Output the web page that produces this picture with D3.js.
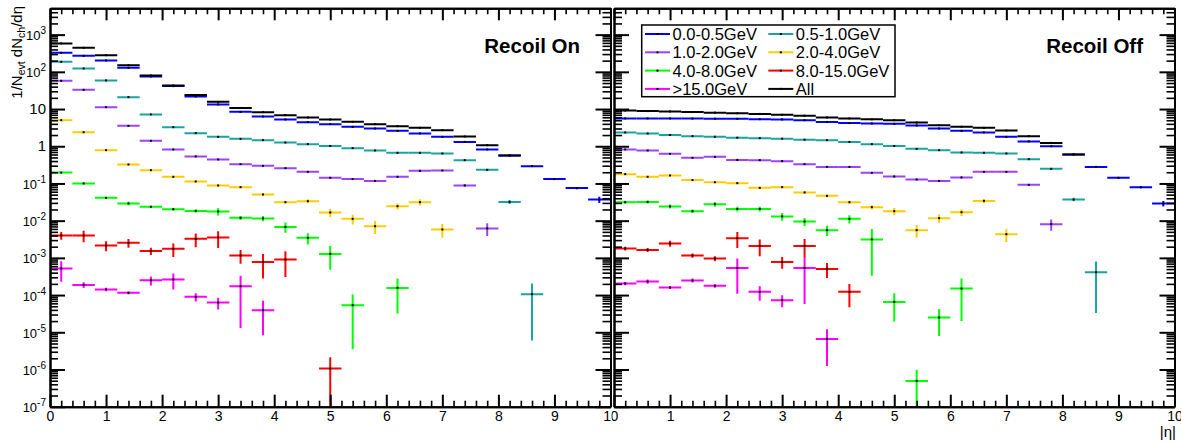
<!DOCTYPE html>
<html>
<head>
<meta charset="utf-8">
<script src="https://cdn.jsdelivr.net/npm/d3@7"></script>
<style>
  html, body { margin: 0; padding: 0; background: #fff; }
  svg { display: block; font-family: "Liberation Sans", Arial, Helvetica, sans-serif; }
</style>
</head>
<body>
<svg id="chart" width="1181" height="442"></svg>
<script>
// |eta| bin centres (bin width 0.4)
const etaBins = [0.2, 0.6, 1.0, 1.4, 1.8, 2.2, 2.6, 3.0, 3.4, 3.8, 4.2, 4.6, 5.0,
                 5.4, 5.8, 6.2, 6.6, 7.0, 7.4, 7.8, 8.2, 8.6, 9.0, 9.4, 9.8];
const binHalfWidth = 0.2;

const seriesLabels = ["0.0-0.5GeV", "0.5-1.0GeV", "1.0-2.0GeV", "2.0-4.0GeV",
                      "4.0-8.0GeV", "8.0-15.0GeV", ">15.0GeV", "All"];
const seriesColors = ["#0000ff", "#1ba2a2", "#9d42ff", "#ffcc00",
                      "#00ff00", "#ff0000", "#ff00ff", "#000000"];

// ---- Recoil On : 1/N_evt dN_ch/d|eta| ----
const onPt0 = [324, 269, 202, 128, 75, 41.3, 21.8, 13.3, 8.4, 6.3, 5.25, 4.45, 3.93,
               3.33, 3.0, 2.59, 2.21, 1.79, 1.31, 0.82, 0.566, 0.292, 0.131, 0.075, 0.037];
const onPt0Err = [3, 3, 2, 2, 1, 0.6, 0.4, 0.3, 0.2, 0.15, 0.12, 0.1, 0.1,
                  0.08, 0.08, 0.07, 0.06, 0.05, 0.04, 0.03, 0.02, 0.012, 0.007, 0.005, 0.007];
const onPt1 = [186, 123, 58.7, 20.9, 7.16, 3.26, 2.25, 1.79, 1.58, 1.46, 1.26, 1.14, 1.02,
               0.89, 0.77, 0.666, 0.666, 0.64, 0.423, 0.232, 0.0319, 1.06e-4, null, null, null];
const onPt1Err = [2, 2, 1, 0.4, 0.12, 0.06, 0.04, 0.03, 0.03, 0.03, 0.03, 0.03, 0.03,
                  0.02, 0.02, 0.02, 0.02, 0.02, 0.015, 0.01, 0.004, 1.0e-4, null, null, null];
const onPt2 = [57.3, 32.8, 11.2, 3.53, 1.40, 0.82, 0.532, 0.442, 0.33, 0.297, 0.258, 0.205, 0.142,
               0.131, 0.117, 0.151, 0.219, 0.223, 0.0883, 6.2e-3, null, null, null, null, null];
const onPt2Err = [1, 0.6, 0.2, 0.06, 0.03, 0.02, 0.012, 0.01, 0.008, 0.008, 0.007, 0.006, 0.005,
                  0.005, 0.005, 0.006, 0.008, 0.008, 0.005, 2.3e-3, null, null, null, null, null];
const onPt3 = [5.03, 2.39, 0.786, 0.324, 0.228, 0.151, 0.113, 0.0883, 0.0796, 0.0506, 0.0314, 0.0334, 0.0166,
               0.0112, 7.1e-3, 0.0245, 0.0314, 5.8e-3, null, null, null, null, null, null, null];
const onPt3Err = [0.05, 0.03, 0.012, 0.007, 0.006, 0.005, 0.004, 0.004, 0.004, 0.004, 0.002, 0.004, 0.004,
                  0.0033, 0.0027, 0.0045, 0.006, 0.0023, null, null, null, null, null, null, null];
const onPt4 = [0.196, 0.1, 0.041, 0.029, 0.0235, 0.0204, 0.0183, 0.0177, 0.0119, 0.0115, 6.8e-3, 3.45e-3, 1.28e-3,
               5.35e-5, null, 1.56e-4, null, null, null, null, null, null, null, null, null];
const onPt4Err = [0.006, 0.004, 0.002, 0.003, 0.002, 0.002, 0.002, 0.004, 0.0015, 0.0018, 2.1e-3, 1.15e-3, 0.8e-3,
                  5.0e-5, null, 1.24e-4, null, null, null, null, null, null, null, null, null];
const onPt5 = [4.0e-3, 4.0e-3, 2.15e-3, 2.53e-3, 1.54e-3, 1.75e-3, 3.24e-3, 3.53e-3, 1.16e-3, 7.8e-4, 9.06e-4, null, 1.06e-6,
               null, null, null, null, null, null, null, null, null, null, null, null];
const onPt5Err = [0.93e-3, 1.37e-3, 0.65e-3, 0.67e-3, 0.34e-3, 0.7e-3, 1.3e-3, 1.7e-3, 0.47e-3, 0.5e-3, 0.6e-3, null, 1.06e-6,
                  null, null, null, null, null, null, null, null, null, null, null, null];
const onPt6 = [5.19e-4, 1.88e-4, 1.42e-4, 1.15e-4, 2.5e-4, 2.62e-4, 8.95e-5, 6.3e-5, 1.73e-4, 3.93e-5, null, null, null,
               null, null, null, null, null, null, null, null, null, null, null, null];
const onPt6Err = [2.9e-4, 0.33e-4, 0.15e-4, 0.1e-4, 0.68e-4, 1.2e-4, 2.2e-5, 2.2e-5, 1.6e-4, 3.1e-5, null, null, null,
                  null, null, null, null, null, null, null, null, null, null, null, null];
const onAll = [580, 442, 281, 151, 80, 43, 23.7, 15.6, 10.7, 8.26, 6.86, 5.94, 5.25,
               4.53, 3.93, 3.47, 3.12, 2.71, 1.83, 1.07, 0.566, null, null, null, null];
const onAllErr = [4, 3, 2, 2, 1, 0.6, 0.4, 0.3, 0.2, 0.15, 0.12, 0.1, 0.1,
                  0.08, 0.08, 0.07, 0.06, 0.05, 0.04, 0.03, 0.02, null, null, null, null];

// ---- Recoil Off ----
const offPt0 = [5.6, 5.6, 5.6, 5.55, 5.5, 5.45, 5.35, 5.25, 5.0, 4.5, 4.2, 4.1, 4.0,
                3.62, 3.0, 2.59, 2.35, 1.79, 1.35, 1.0, 0.603, 0.279, 0.142, 0.0796, 0.029];
const offPt0Err = [0.08, 0.08, 0.08, 0.08, 0.08, 0.08, 0.08, 0.08, 0.07, 0.07, 0.07, 0.07, 0.07,
                   0.06, 0.06, 0.05, 0.05, 0.04, 0.04, 0.03, 0.02, 0.012, 0.007, 0.005, 0.005];
const offPt1 = [2.35, 2.2, 2.0, 1.87, 1.8, 1.7, 1.65, 1.6, 1.5, 1.46, 1.31, 1.14, 1.02,
                0.85, 0.786, 0.68, 0.666, 0.64, 0.45, 0.247, 0.037, 4.13e-4, null, null, null];
const offPt1Err = [0.04, 0.04, 0.04, 0.04, 0.04, 0.04, 0.04, 0.04, 0.03, 0.03, 0.03, 0.03, 0.03,
                   0.02, 0.02, 0.02, 0.02, 0.02, 0.015, 0.01, 0.004, 3.8e-4, null, null, null];
const offPt2 = [0.82, 0.77, 0.625, 0.488, 0.519, 0.43, 0.423, 0.398, 0.33, 0.279, 0.279, 0.193, 0.154,
                0.128, 0.117, 0.145, 0.205, 0.205, 0.0916, 8.06e-3, null, null, null, null, null];
const offPt2Err = [0.02, 0.02, 0.015, 0.012, 0.012, 0.01, 0.01, 0.01, 0.01, 0.008, 0.008, 0.007, 0.006,
                   0.006, 0.006, 0.007, 0.008, 0.008, 0.005, 2.7e-3, null, null, null, null, null];
const offPt3 = [0.178, 0.151, 0.164, 0.123, 0.108, 0.102, 0.0762, 0.0796, 0.0573, 0.0464, 0.0314, 0.0231, 0.018,
                5.56e-3, 0.0117, 0.0169, 0.034, 4.34e-3, null, null, null, null, null, null, null];
const offPt3Err = [0.005, 0.005, 0.005, 0.004, 0.004, 0.004, 0.003, 0.003, 0.004, 0.004, 0.003, 0.003, 0.004,
                   2.1e-3, 0.003, 0.0035, 0.0045, 1.65e-3, null, null, null, null, null, null, null];
const offPt4 = [0.0314, 0.0319, 0.0241, 0.018, 0.0278, 0.0207, 0.0207, 0.013, 9.5e-3, 5.56e-3, 0.0112, 3.13e-3, 6.56e-5,
                4.94e-7, 2.5e-5, 1.5e-4, null, null, null, null, null, null, null, null, null];
const offPt4Err = [0.003, 0.003, 0.003, 0.002, 0.004, 0.003, 0.003, 0.003, 0.0023, 1.7e-3, 0.0028, 2.8e-3, 4.6e-5,
                   4.9e-7, 1.7e-5, 1.3e-4, null, null, null, null, null, null, null, null, null];
const offPt5 = [1.79e-3, 1.64e-3, 2.44e-3, 1.16e-3, 9.6e-4, 3.39e-3, 2.1e-3, 7.8e-4, 2.1e-3, 5.06e-4, 1.22e-4, null, null,
                null, null, null, null, null, null, null, null, null, null, null, null];
const offPt5Err = [0.2e-3, 0.2e-3, 0.45e-3, 0.15e-3, 0.15e-3, 1.55e-3, 1.0e-3, 0.27e-3, 1.1e-3, 2.2e-4, 7.5e-5, null, null,
                   null, null, null, null, null, null, null, null, null, null, null, null];
const offPt6 = [2.05e-4, 2.32e-4, 1.6e-4, 2.47e-4, 1.77e-4, 5.38e-4, 1.22e-4, 7.3e-5, 5.38e-4, 6.65e-6, null, null, null,
                null, null, null, null, null, null, null, null, null, null, null, null];
const offPt6Err = [0.2e-4, 0.3e-4, 0.15e-4, 0.3e-4, 0.2e-4, 4.3e-4, 5.2e-5, 2.6e-5, 4.8e-4, 5.4e-6, null, null, null,
                   null, null, null, null, null, null, null, null, null, null, null, null];
const offAll = [9.1, 8.8, 8.6, 8.3, 8.0, 7.7, 7.4, 7.0, 6.6, 5.94, 5.6, 5.3, 5.03,
                4.36, 3.69, 3.33, 3.12, 2.66, 1.87, 1.23, 0.603, null, null, null, null];
const offAllErr = [0.1, 0.1, 0.1, 0.1, 0.1, 0.1, 0.1, 0.1, 0.08, 0.08, 0.08, 0.08, 0.07,
                   0.06, 0.06, 0.05, 0.05, 0.04, 0.04, 0.03, 0.02, null, null, null, null];

const xTickValues = [0, 1, 2, 3, 4, 5, 6, 7, 8, 9, 10];
const yDecades = [-7, -6, -5, -4, -3, -2, -1, 0, 1, 2, 3];

// ---------------- layout ----------------
const svg = d3.select("#chart");
const W = 1181, H = 442;
const plotTop = 8.3, plotBottom = 406.7;
const yDomain = [1e-7, 5.1e3];

const panels = [
  { id: "on",  left: 50,  right: 610.5, padLeft: 0,
    title: "Recoil On", titleX: 580,
    values: [onPt0, onPt1, onPt2, onPt3, onPt4, onPt5, onPt6, onAll],
    errors: [onPt0Err, onPt1Err, onPt2Err, onPt3Err, onPt4Err, onPt5Err, onPt6Err, onAllErr],
    yLabels: true, legend: false },
  { id: "off", left: 614, right: 1174.5, padLeft: 612,
    title: "Recoil Off", titleX: 1143,
    values: [offPt0, offPt1, offPt2, offPt3, offPt4, offPt5, offPt6, offAll],
    errors: [offPt0Err, offPt1Err, offPt2Err, offPt3Err, offPt4Err, offPt5Err, offPt6Err, offAllErr],
    yLabels: false, legend: true }
];

const y = d3.scaleLog().domain(yDomain).range([plotBottom, plotTop]);

const yMajor = yDecades.map(k => Math.pow(10, k));
const yMinor = [];
yDecades.forEach(k => {
  for (let m = 2; m <= 9; m++) {
    const v = m * Math.pow(10, k);
    if (v <= yDomain[1]) yMinor.push(v);
  }
});
const xMinor = d3.range(0, 10.001, 0.2).filter(v => Math.abs(v - Math.round(v)) > 1e-6);

const defs = svg.append("defs");

function styleAxis(g, width) {
  g.select(".domain").attr("stroke", "#000").attr("stroke-width", 2);
  g.selectAll(".tick line").attr("stroke", "#000").attr("stroke-width", width);
}

function drawPanel(p) {
  const root = svg.append("g");
  if (p.padLeft > 0) {
    // the second pad hides whatever of the first pad reaches past its left edge
    defs.append("clipPath").attr("id", "pad-" + p.id)
      .append("rect").attr("x", p.padLeft).attr("y", 0).attr("width", W - p.padLeft).attr("height", H);
    root.attr("clip-path", "url(#pad-" + p.id + ")");
    root.append("rect").attr("x", p.padLeft).attr("y", 0)
      .attr("width", W - p.padLeft).attr("height", H).attr("fill", "#fff");
  }

  const x = d3.scaleLinear().domain([0, 10]).range([p.left, p.right]);

  defs.append("clipPath").attr("id", "frame-" + p.id)
    .append("rect").attr("x", p.left).attr("y", plotTop)
    .attr("width", p.right - p.left).attr("height", plotBottom - plotTop);

  const data = root.append("g").attr("clip-path", "url(#frame-" + p.id + ")");
  p.values.forEach((vals, si) => {
    const errs = p.errors[si];
    const color = seriesColors[si];
    const pts = etaBins.map((eta, i) => ({ eta, v: vals[i], e: errs[i] || 0 }))
      .filter(d => d.v !== null && d.v !== undefined);
    const g = data.append("g");
    // bin-width bars
    g.selectAll("line.h").data(pts).join("line")
      .attr("x1", d => x(d.eta - binHalfWidth)).attr("x2", d => x(d.eta + binHalfWidth))
      .attr("y1", d => y(d.v)).attr("y2", d => y(d.v))
      .attr("stroke", color).attr("stroke-width", 2);
    // statistical error bars (lower end runs off the frame when it reaches zero)
    g.selectAll("line.v").data(pts.filter(d => d.e > 0)).join("line")
      .attr("x1", d => x(d.eta)).attr("x2", d => x(d.eta))
      .attr("y1", d => y(d.v + d.e))
      .attr("y2", d => (d.v - d.e) > yDomain[0] * 0.5 ? y(d.v - d.e) : plotBottom + 5)
      .attr("stroke", color).attr("stroke-width", 2);
    // point markers
    g.selectAll("rect").data(pts).join("rect")
      .attr("x", d => x(d.eta) - 1).attr("y", d => y(d.v) - 1)
      .attr("width", 2).attr("height", 2).attr("fill", "#000");
  });

  // axes: ticks drawn inward on all four sides
  const axes = root.append("g");
  const bottomMajor = axes.append("g").attr("transform", `translate(0,${plotBottom})`)
    .call(d3.axisBottom(x).tickValues(xTickValues).tickSizeInner(-12).tickSizeOuter(0)
      .tickPadding(4.5).tickFormat(d3.format("d")));
  styleAxis(bottomMajor, 2);
  bottomMajor.selectAll(".tick text").attr("font-size", 14)
    .attr("font-family", '"Liberation Sans", Arial, sans-serif').attr("fill", "#000");
  const bottomMinor = axes.append("g").attr("transform", `translate(0,${plotBottom})`)
    .call(d3.axisBottom(x).tickValues(xMinor).tickSizeInner(-6).tickSizeOuter(0).tickFormat(""));
  styleAxis(bottomMinor, 1.6);

  const topMajor = axes.append("g").attr("transform", `translate(0,${plotTop})`)
    .call(d3.axisTop(x).tickValues(xTickValues).tickSizeInner(-12).tickSizeOuter(0).tickFormat(""));
  styleAxis(topMajor, 2);
  const topMinor = axes.append("g").attr("transform", `translate(0,${plotTop})`)
    .call(d3.axisTop(x).tickValues(xMinor).tickSizeInner(-6).tickSizeOuter(0).tickFormat(""));
  styleAxis(topMinor, 1.6);

  const leftMajor = axes.append("g").attr("transform", `translate(${p.left},0)`)
    .call(d3.axisLeft(y).tickValues(yMajor).tickSizeInner(-15).tickSizeOuter(0).tickFormat(""));
  styleAxis(leftMajor, 2);
  const leftMinor = axes.append("g").attr("transform", `translate(${p.left},0)`)
    .call(d3.axisLeft(y).tickValues(yMinor).tickSizeInner(-8).tickSizeOuter(0).tickFormat(""));
  styleAxis(leftMinor, 1.6);

  const rightMajor = axes.append("g").attr("transform", `translate(${p.right},0)`)
    .call(d3.axisRight(y).tickValues(yMajor).tickSizeInner(-15).tickSizeOuter(0).tickFormat(""));
  styleAxis(rightMajor, 2);
  const rightMinor = axes.append("g").attr("transform", `translate(${p.right},0)`)
    .call(d3.axisRight(y).tickValues(yMinor).tickSizeInner(-8).tickSizeOuter(0).tickFormat(""));
  styleAxis(rightMinor, 1.6);

  if (p.yLabels) {
    const lab = axes.append("g").attr("fill", "#000");
    yDecades.forEach(k => {
      const t = lab.append("text").attr("x", 46).attr("y", y(Math.pow(10, k)))
        .attr("dy", "0.35em").attr("text-anchor", "end");
      if (k === 0 || k === 1) {
        t.attr("font-size", 15).text(k === 0 ? "1" : "10");
      } else {
        t.append("tspan").attr("font-size", 13).text("10");
        t.append("tspan").attr("font-size", 10).attr("dy", -6).text(String(k));
      }
    });
  }

  // panel label
  root.append("text").attr("x", p.titleX).attr("y", 53)
    .attr("text-anchor", "end").attr("font-size", 20.5).attr("font-weight", "bold")
    .attr("fill", "#000").text(p.title);

  if (p.legend) {
    const lg = root.append("g");
    lg.append("rect").attr("x", 641.7).attr("y", 25).attr("width", 253.3).attr("height", 71.7)
      .attr("fill", "#fff").attr("stroke", "#000").attr("stroke-width", 1.5);
    seriesLabels.forEach((name, i) => {
      const col = i % 2, row = Math.floor(i / 2);
      const lx = 645 + col * 123.3, ly = 34 + row * 18.3;
      lg.append("line").attr("x1", lx).attr("x2", lx + 25).attr("y1", ly).attr("y2", ly)
        .attr("stroke", seriesColors[i]).attr("stroke-width", 2);
      lg.append("rect").attr("x", lx + 11.5).attr("y", ly - 1).attr("width", 2).attr("height", 2)
        .attr("fill", "#000");
      lg.append("text").attr("x", lx + 27.5).attr("y", ly).attr("dy", "0.36em")
        .attr("font-size", 16.5).attr("fill", "#000").text(name);
    });
  }
}

panels.forEach(drawPanel);

// axis titles
const yTitle = svg.append("text")
  .attr("transform", "translate(21.5,6) rotate(-90)")
  .attr("text-anchor", "end").attr("font-size", 15).attr("fill", "#000");
yTitle.append("tspan").text("1/N");
yTitle.append("tspan").attr("font-size", 10.5).attr("dy", 3.5).text("evt");
yTitle.append("tspan").attr("dy", -3.5).text(" dN");
yTitle.append("tspan").attr("font-size", 10.5).attr("dy", 3.5).text("ch");
yTitle.append("tspan").attr("dy", -3.5).text("/dη");

svg.append("text").attr("x", 1176).attr("y", 437).attr("text-anchor", "end")
  .attr("font-size", 15).attr("fill", "#000").text("|η|");
</script>
</body>
</html>
